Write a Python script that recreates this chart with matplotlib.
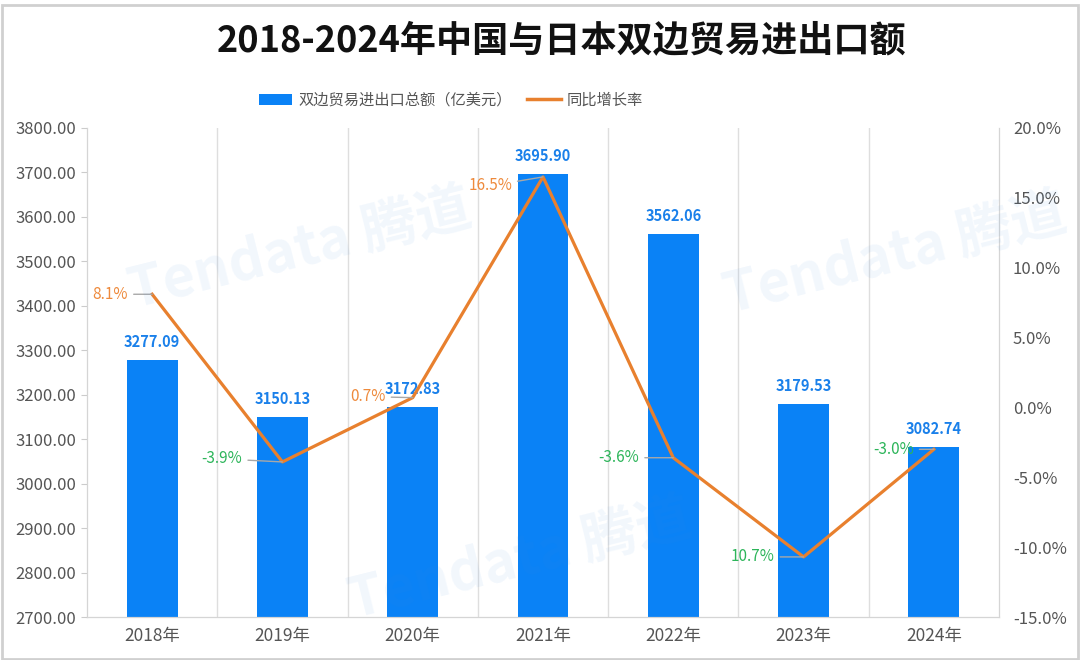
import matplotlib
matplotlib.use("Agg")
import matplotlib.pyplot as plt
from matplotlib.patches import Patch, Rectangle
from matplotlib.lines import Line2D
from matplotlib.ticker import FuncFormatter
import numpy as np

plt.rcParams["font.family"] = ["Noto Sans CJK SC", "DejaVu Sans"]

years = ["2018年", "2019年", "2020年", "2021年", "2022年", "2023年", "2024年"]
totals = [3277.09, 3150.13, 3172.83, 3695.90, 3562.06, 3179.53, 3082.74]
growth = [8.1, -3.9, 0.7, 16.5, -3.6, -10.7, -3.0]
growth_labels = ["8.1%", "-3.9%", "0.7%", "16.5%", "-3.6%", "10.7%", "-3.0%"]

BAR = "#0A82F6"
LINE = "#E8802E"
POS = "#EE8A3C"
NEG = "#2DB55A"
GRID = "#DEDEDE"
TICK = "#555555"

# label offsets in pixels (text right edge relative to the point)
offsets = [(-24, 0), (-40, 3), (-27, 1), (-31, -9), (-34, 0), (-29, 0), (-20, 0)]

fig = plt.figure(figsize=(10.8, 6.6), dpi=100)
W, H = 1080, 660
ax = fig.add_axes([87 / W, 1 - 617 / H, 912 / W, 489 / H])
ax2 = ax.twinx()

x = np.arange(len(years))
ax.bar(x, totals, width=0.39, color=BAR, zorder=2)
ax.set_xlim(-0.5, len(years) - 0.5)
ax.set_ylim(2700, 3800)
ax.set_yticks(np.arange(2700, 3801, 100))
ax.yaxis.set_major_formatter(FuncFormatter(lambda v, p: f"{v:.2f}"))
ax.set_xticks(x)
ax.set_xticklabels(years)

for b in np.arange(0.5, len(years) - 0.5):
    ax.axvline(b, color=GRID, lw=1, zorder=0)

for a in (ax, ax2):
    for s in a.spines.values():
        s.set_color("#D5D5D5")
    a.spines["top"].set_visible(False)

ax.tick_params(axis="y", labelsize=12, colors=TICK, length=4, width=0.8, color="#CCCCCC", pad=4)
ax.tick_params(axis="x", labelsize=12.5, colors=TICK, length=0, pad=7)

for xi, v in zip(x, totals):
    ax.annotate(f"{v:.2f}", (xi, v), xytext=(0, 18), textcoords="offset pixels",
                ha="center", va="center", fontsize=10.5, fontweight="bold", color="#1A80EA", zorder=4)

ax2.plot(x, growth, color=LINE, lw=2.3, zorder=3)
ax2.set_ylim(-15, 20)
ax2.set_yticks(np.arange(-15, 21, 5))
ax2.yaxis.set_major_formatter(FuncFormatter(lambda v, p: f"{v:.1f}%"))
ax2.tick_params(axis="y", labelsize=12, colors=TICK, length=0, pad=10)

for xi, v, lab, (dx, dy) in zip(x, growth, growth_labels, offsets):
    ax2.annotate(lab, (xi, v), xytext=(dx, dy), textcoords="offset pixels",
                 ha="right", va="center", fontsize=11,
                 color=POS if v >= 0 else NEG,
                 arrowprops=dict(arrowstyle="-", color="#A8A8A8", lw=1,
                                 shrinkA=2, shrinkB=0), zorder=4)

# faint watermarks
for (wx, wy) in [(300 / W, 1 - 250 / H), (520 / W, 1 - 560 / H), (895 / W, 1 - 255 / H)]:
    fig.text(wx, wy, "Tendata 腾道", fontsize=40, color="#3C8CE0", alpha=0.07,
             rotation=14, ha="center", va="center", fontweight="bold")

fig.text(562 / W, 1 - 41 / H, "2018-2024年中国与日本双边贸易进出口额", ha="center", va="center",
         fontsize=26, fontweight="bold", color="#111111")

handles = [Patch(facecolor=BAR, edgecolor="none"), Line2D([0], [0], color=LINE, lw=2.5)]
leg = fig.legend(handles, ["双边贸易进出口总额（亿美元）", "同比增长率"], ncol=2, loc="center",
                 bbox_to_anchor=(451 / W, 1 - 100 / H), frameon=False, fontsize=11,
                 handlelength=2.2, handleheight=0.7, columnspacing=1.0, handletextpad=0.4)
for t in leg.get_texts():
    t.set_color(TICK)

fig.patches.append(Rectangle((0.002, 0.002), 0.996, 0.99, transform=fig.transFigure,
                             fill=False, edgecolor="#D0D0D0", lw=2))

fig.savefig("out.png", dpi=100)
